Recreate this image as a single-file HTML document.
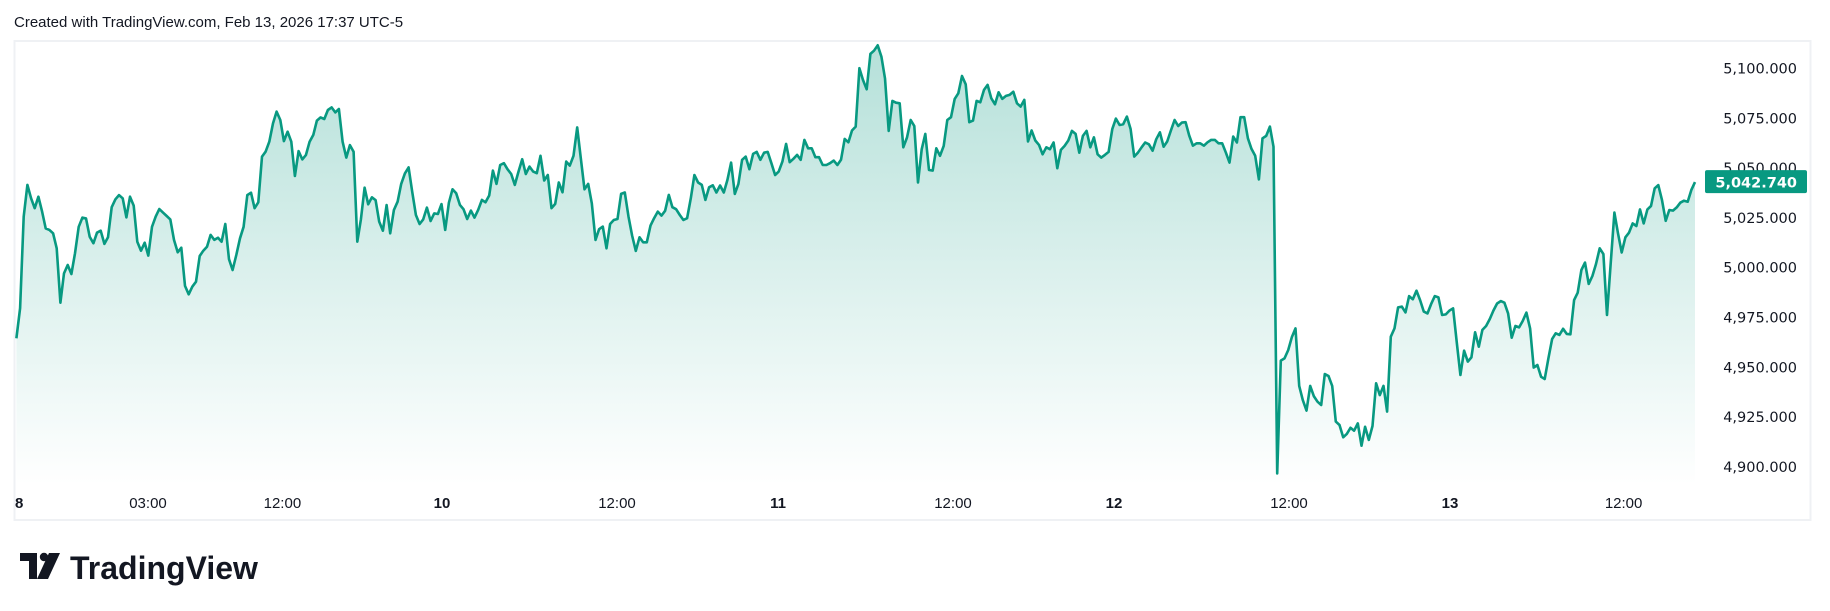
<!DOCTYPE html>
<html><head><meta charset="utf-8">
<style>
html,body{margin:0;padding:0;background:#fff;}
body{width:1830px;height:611px;overflow:hidden;font-family:"Liberation Sans","DejaVu Sans",sans-serif;}
svg{display:block}
</style></head>
<body>
<svg id="chart" width="1830" height="611" viewBox="0 0 1830 611">
  <defs>
    <linearGradient id="fillGrad" x1="0" y1="0" x2="0" y2="1">
      <stop offset="0" stop-color="#089981" stop-opacity="0.30"/>
      <stop offset="1" stop-color="#089981" stop-opacity="0.0"/>
    </linearGradient>
  </defs>
  <text x="14" y="27" font-size="15" fill="#131722">Created with TradingView.com, Feb 13, 2026 17:37 UTC-5</text>
  <rect x="14.5" y="41" width="1796" height="479" fill="none" stroke="#eff1f4" stroke-width="2"/>
  <g id="series"></g>
  <g id="yaxis"></g>
  <g id="xaxis"></g>
  <g>
    <path d="M20 553 h17 v26 h-8 v-18 h-9 z" fill="#131722"/>
    <circle cx="44" cy="557" r="4.2" fill="#131722"/>
    <path d="M49 553 h11 l-12 26 h-11 z" fill="#131722"/>
    <text x="70" y="579" font-size="32" font-weight="bold" fill="#131722">TradingView</text>
  </g>
</svg>
<script>
const prices = [
4964.3,4979.4,5025.4,5041.3,5034.6,5029.6,5035.4,5027.9,5019.5,5018.7,5017.0,5009.5,4982.2,4996.9,5001.1,4996.6,5007.0,5020.3,5024.9,5024.5,
5015.3,5012.0,5017.3,5018.3,5011.7,5015.0,5030.1,5034.1,5036.2,5034.6,5025.0,5035.4,5030.9,5012.8,5008.3,5012.3,5005.8,5020.3,5025.4,5029.2,
5027.4,5025.7,5024.0,5013.7,5007.5,5009.8,4990.6,4986.4,4990.2,4992.7,5005.6,5008.3,5010.3,5016.2,5013.7,5014.8,5012.8,5021.7,5004.0,4998.6,
5006.1,5014.5,5020.3,5036.2,5037.4,5029.6,5032.6,5055.5,5058.0,5063.0,5072.2,5078.1,5073.9,5063.3,5068.0,5063.0,5045.8,5058.3,5054.1,5056.3,
5063.0,5066.4,5073.6,5075.2,5074.4,5078.9,5080.2,5077.7,5079.4,5063.0,5055.0,5061.3,5058.0,5012.8,5024.0,5039.9,5031.6,5035.1,5033.7,5022.9,
5018.3,5031.2,5017.0,5028.7,5032.9,5041.8,5047.1,5050.1,5037.9,5026.2,5021.7,5024.0,5029.9,5023.2,5027.0,5026.7,5031.7,
5018.7,5032.4,5039.1,5037.1,5031.3,5029.1,5024.2,5028.4,5024.9,5028.8,5033.8,5032.6,5036.0,5048.5,5041.8,5051.3,5052.2,5049.2,5046.8,5041.3,
5048.0,5054.2,5046.8,5050.5,5048.0,5047.2,5055.9,5043.5,5046.3,5029.6,5031.8,5042.5,5037.6,5053.0,5051.0,5055.9,5070.2,5054.7,5039.1,5041.8,
5032.1,5013.7,5019.1,5020.4,5009.5,5021.7,5023.7,5024.2,5036.8,5037.5,5025.4,5015.9,5008.2,5015.0,5012.5,5012.5,5020.9,5024.6,5027.9,5025.9,
5028.3,5036.3,5030.1,5029.1,5026.2,5023.7,5024.6,5034.6,5046.3,5042.5,5041.3,5033.8,5040.1,5041.1,5037.5,5041.0,5037.5,5043.8,5052.5,5036.8,
5041.8,5053.9,5055.5,5049.2,5056.9,5057.9,5053.9,5057.5,5057.9,5052.2,5046.3,5048.0,5053.0,5061.9,5052.7,5054.4,5056.4,5053.9,5063.9,5059.7,
5059.7,5055.2,5055.2,5051.3,5051.3,5052.2,5053.5,5051.3,5053.9,5064.4,5062.7,5068.6,5070.6,5099.9,
5094.0,5089.3,5107.1,5108.7,5111.4,5105.7,5094.8,5068.4,5083.5,5082.6,5082.3,5060.2,5065.1,5073.9,5070.9,5042.5,5059.2,5066.9,5048.8,5048.5,
5059.7,5055.9,5060.9,5073.9,5075.3,5084.5,5087.3,5096.0,5091.8,5072.8,5073.6,5083.5,5082.8,5089.0,5091.5,5084.8,5081.8,5087.8,5084.5,5086.0,
5086.5,5088.1,5082.3,5080.6,5084.0,5063.1,5068.6,5063.6,5061.4,5056.7,5060.2,5059.2,5062.6,5049.7,5058.9,5060.9,5063.6,5068.4,5066.9,5057.5,
5065.9,5068.4,5060.2,5065.2,5056.7,5055.0,5056.4,5057.9,5069.4,5074.6,5071.4,5071.8,5075.6,5069.4,5055.5,5057.5,5060.2,5062.6,5061.7,5058.5,
5064.2,5067.7,5060.5,5063.1,5068.6,5073.9,5070.9,5072.6,5072.8,5066.1,5061.0,5062.2,5062.2,5061.0,5062.7,5063.9,5063.9,5062.2,5062.2,5057.5,
5052.5,5065.6,5062.6,5075.3,5075.3,5064.7,5059.4,5055.9,5044.1,5064.7,5065.9,5070.6,5060.5,
4896.5,4953.1,4954.2,4958.4,4964.8,4969.3,4940.4,4933.3,4928.0,4940.4,4935.3,4932.5,4930.8,4946.4,4945.4,4940.4,4922.5,4920.8,4914.6,4916.3,
4919.4,4917.9,4921.6,4910.4,4919.9,4913.3,4920.3,4941.7,4935.8,4940.4,4927.5,4965.1,4969.3,4979.8,4980.2,4977.3,4985.5,4983.9,4988.2,4983.5,
4977.7,4976.8,4981.5,4985.5,4984.9,4976.0,4976.3,4978.2,4979.3,4962.1,4945.9,4958.1,4952.6,4954.7,4967.3,4960.1,4968.5,4970.5,4974.0,4978.2,
4981.8,4983.0,4982.2,4976.8,4964.6,4970.5,4969.8,4973.0,4977.2,4969.3,4949.6,4950.9,4945.0,4943.9,4954.2,4963.9,4966.8,4966.0,4969.1,4966.5,
4966.3,4983.5,4987.2,4998.6,5002.3,4991.6,4995.6,5001.6,5009.5,5006.6,4976.0,5001.9,5027.4,5017.0,5007.4,5015.0,5017.3,5022.0,5020.7,5029.0,
5022.0,5029.0,5030.7,5039.6,5041.2,5033.7,5023.3,5028.7,5028.4,5030.0,5032.4,5033.4,5032.9,5038.7,5042.74
];
const startHour = -30.4;   // hours relative to Feb 10 00:00
const endHour = 89.5;
const priceTicks = [5100,5075,5050,5025,5000,4975,4950,4925,4900];
const timeTickLabels = ["8","03:00","12:00","10","12:00","11","12:00","12","12:00","13","12:00"];
const timeTickHours = [-30.2,-21,-11.4,0,12.5,24,36.5,48,60.5,72,84.4];
const boldTicks = [true,false,false,true,false,true,false,true,false,true,false];
const lastPrice = prices[prices.length-1];

const NS="http://www.w3.org/2000/svg";
const xOfHour = h => 442 + h*14;
const yOfPrice = p => 68 + (5100 - p)*1.992;
const n = prices.length;
const hourOf = i => startHour + (endHour-startHour)*i/(n-1);

const series = document.getElementById('series');
let d = "";
prices.forEach((p,i)=>{ d += (i? "L":"M") + xOfHour(hourOf(i)).toFixed(1) + " " + yOfPrice(p).toFixed(1); });
const x0 = xOfHour(hourOf(0)), x1 = xOfHour(hourOf(n-1));
const area = document.createElementNS(NS,'path');
area.setAttribute('d', d + "L"+x1.toFixed(1)+" 485 L"+x0.toFixed(1)+" 485 Z");
area.setAttribute('fill','url(#fillGrad)');


series.appendChild(area);
const line = document.createElementNS(NS,'path');
line.setAttribute('d', d);
line.setAttribute('fill','none');
line.setAttribute('stroke','#089981');
line.setAttribute('stroke-width','2.6');
line.setAttribute('stroke-linejoin','round');


series.appendChild(line);

const yaxis = document.getElementById('yaxis');
priceTicks.forEach(v=>{
  const t = document.createElementNS(NS,'text');
  t.setAttribute('x', 1797);
  t.setAttribute('y', (yOfPrice(v)+5.5).toFixed(1));
  t.setAttribute('text-anchor','end');
  t.setAttribute('font-size','14.5');
  t.setAttribute('font-family','"DejaVu Sans", sans-serif');
  t.setAttribute('fill','#131722');
  t.textContent = v.toLocaleString('en-US',{minimumFractionDigits:3});
  
  
  yaxis.appendChild(t);
});
const ly = yOfPrice(lastPrice);
const box = document.createElementNS(NS,'rect');
box.setAttribute('x',1705); box.setAttribute('y',(ly-12).toFixed(1));
box.setAttribute('width',102); box.setAttribute('height',23); box.setAttribute('rx',2);
box.setAttribute('fill','#089981');


yaxis.appendChild(box);
const lt = document.createElementNS(NS,'text');
lt.setAttribute('x',1797); lt.setAttribute('y',(ly+5.5).toFixed(1));
lt.setAttribute('text-anchor','end'); lt.setAttribute('font-size','14.5');
lt.setAttribute('font-family','"DejaVu Sans", sans-serif');
lt.setAttribute('font-weight','bold'); lt.setAttribute('fill','#ffffff');
lt.textContent = lastPrice.toLocaleString('en-US',{minimumFractionDigits:3});


yaxis.appendChild(lt);

const xaxis = document.getElementById('xaxis');
timeTickLabels.forEach((lab,i)=>{
  const t = document.createElementNS(NS,'text');
  t.setAttribute('x', xOfHour(timeTickHours[i]).toFixed(1));
  t.setAttribute('y', 508);
  t.setAttribute('text-anchor','middle');
  t.setAttribute('font-size','15');
  if (boldTicks[i]) t.setAttribute('font-weight','bold');
  t.setAttribute('fill','#131722');
  t.textContent = lab;
  
  
  xaxis.appendChild(t);
});
</script>
</body></html>
